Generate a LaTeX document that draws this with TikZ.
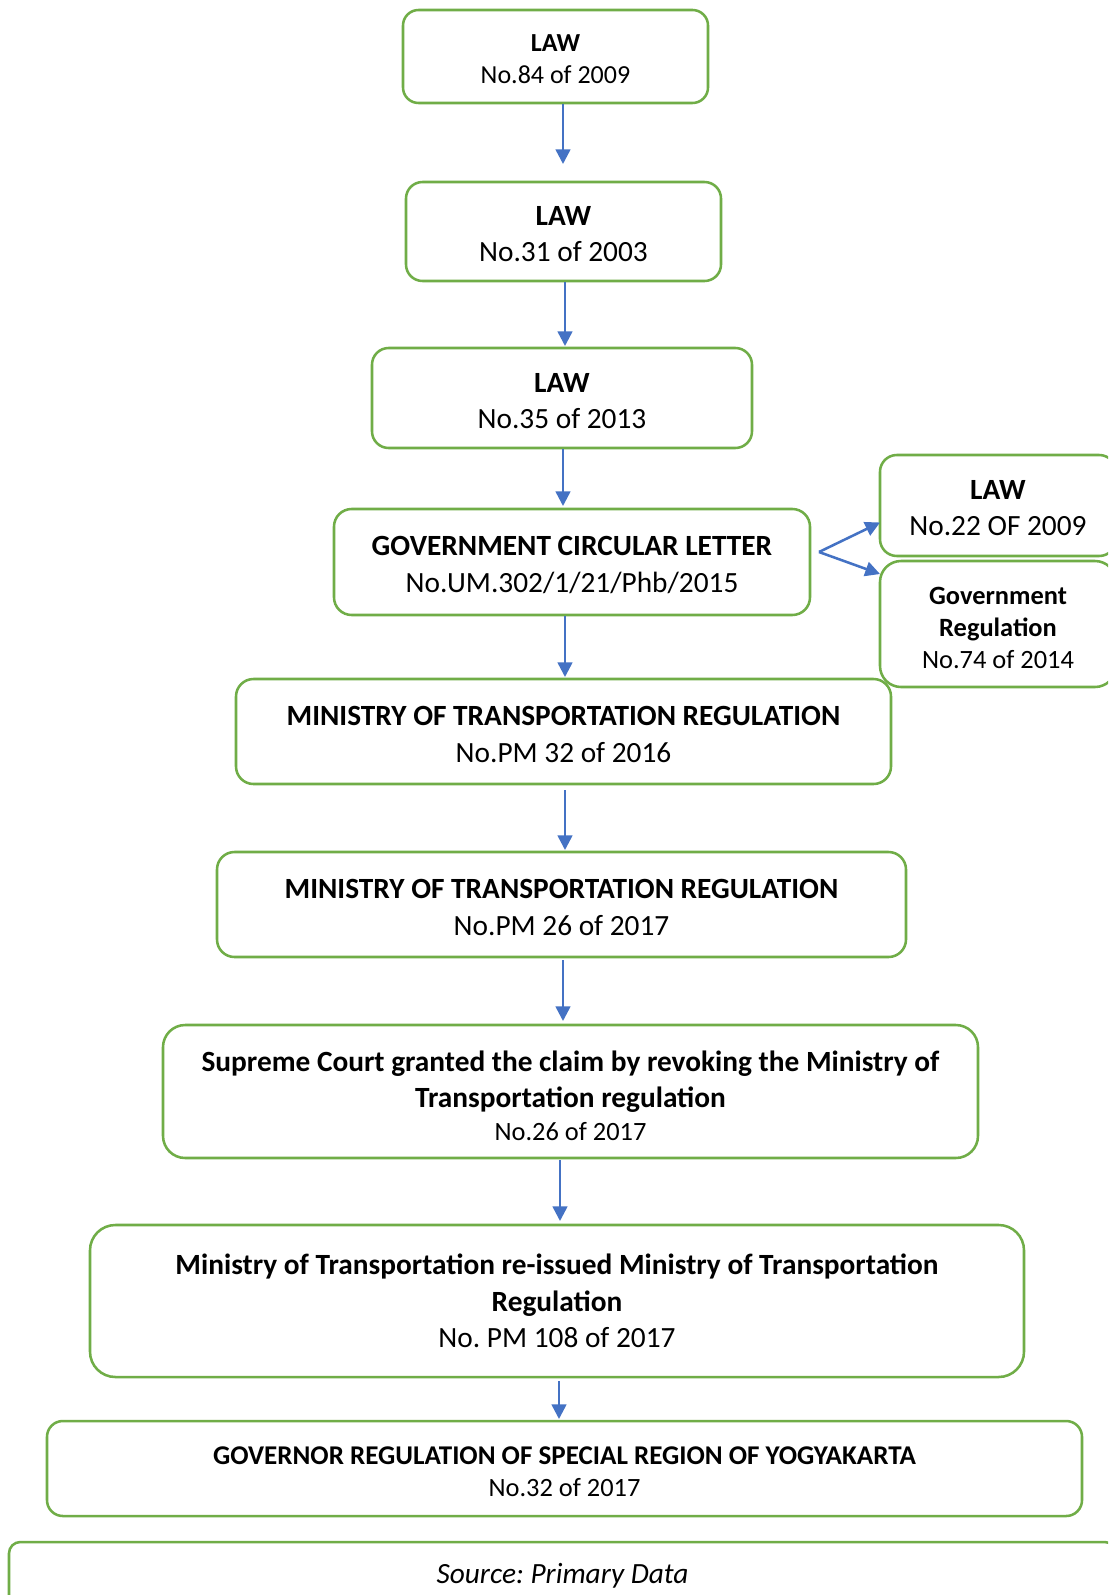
\documentclass[tikz,border=0pt]{standalone}
\usepackage{fontspec}
\setmainfont{Carlito}
\usetikzlibrary{arrows.meta}
\definecolor{grn}{HTML}{70AD47}
\definecolor{blu}{HTML}{4472C4}
\newdimen\pxu \pxu=0.75pt
\newcommand\setfs[2]{\fontsize{#1}{#2}\selectfont}
\newcommand\tp{\rule{0pt}{0.84em}}
\frenchspacing
\tikzset{
  box/.style 2 args={draw=grn, line width=1.9pt, align=center, inner sep=0pt,
    minimum width=#1*\pxu, minimum height=#2*\pxu, rounded corners={#2*\pxu/6}},
  arr/.style={draw=blu, line width=1.9pt, -{Triangle[length=11pt,width=11pt]}}
}
\begin{document}
\begin{tikzpicture}[x=0.75pt,y=-0.75pt]
\useasboundingbox (0,0) rectangle (1108,1595);
\clip (0,0) rectangle (1108,1595);
\fill[white] (0,0) rectangle (1108,1595);

\node[box={305}{93}, font=\setfs{19.5}{23.6}] (b1) at (555.5,56.5) {\tp\textbf{LAW}\\No.84 of 2009};
\node[box={315}{99}, font=\setfs{22}{26.7}] (b2) at (563.5,231.5) {\tp\textbf{LAW}\\No.31 of 2003};
\node[box={380}{100}, font=\setfs{22}{26.7}] (b3) at (562,398) {\tp\textbf{LAW}\\No.35 of 2013};
\node[box={476}{106}, font=\setfs{22}{27.7}] (b4) at (572,562) {\tp\textbf{GOVERNMENT CIRCULAR LETTER}\\No.UM.302/1/21/Phb/2015};
\node[box={236}{101}, font=\setfs{22}{26.7}] (r1) at (998,505.5) {\tp\textbf{LAW}\\No.22 OF 2009};
\node[box={236}{126}, font=\setfs{19.8}{24}] (r2) at (998,624) {\rule{0pt}{0.95em}\textbf{Government}\\\textbf{Regulation}\\No.74 of 2014};
\node[box={655}{105}, font=\setfs{22}{27.7}] (b5) at (563.5,731.5) {\tp\textbf{MINISTRY OF TRANSPORTATION REGULATION}\\No.PM 32 of 2016};
\node[box={689}{105}, font=\setfs{22}{27.7}] (b6) at (561.5,904.5) {\tp\textbf{MINISTRY OF TRANSPORTATION REGULATION}\\No.PM 26 of 2017};
\node[box={815}{133}, font=\setfs{22}{27}] (b7) at (570.5,1091.5) {\rule{0pt}{0.98em}\textbf{Supreme Court granted the claim by revoking the Ministry of}\\\textbf{Transportation regulation}\\[-2pt]{\setfs{19.8}{25}No.26 of 2017}};
\node[box={934}{152}, font=\setfs{22}{27.5}] (b8) at (557,1301) {\textbf{Ministry of Transportation re-issued Ministry of Transportation}\\\textbf{Regulation}\\No. PM 108 of 2017};
\node[box={1035}{95}, font=\setfs{20.3}{24.5}] (b9) at (564.5,1468.5) {\rule{0pt}{0.9em}\textbf{GOVERNOR REGULATION OF SPECIAL REGION OF YOGYAKARTA}\\{\setfs{19.8}{24.5}No.32 of 2017}};
\node[box={1107}{68}, font=\setfs{22}{26}] (src) at (562.5,1576) {\textit{Source: Primary Data}};

\coordinate (t1) at (563,164);
\coordinate (t2) at (565,346);
\coordinate (t3) at (563,506);
\coordinate (t4) at (565,677);
\coordinate (s5) at (565,790);
\coordinate (t5) at (565,850);
\coordinate (s6) at (563,960);
\coordinate (t6) at (563,1021);
\coordinate (s7) at (560,1160);
\coordinate (t7) at (560,1221);
\coordinate (s8) at (559,1381);
\coordinate (t8) at (559,1419);
\coordinate (sr) at (819,552);
\coordinate (e1) at (880,522.5);
\coordinate (e2) at (880,574);

\draw[arr] (b1.south -| t1) -- (t1);
\draw[arr] (b2.south -| t2) -- (t2);
\draw[arr] (b3.south -| t3) -- (t3);
\draw[arr] (b4.south -| t4) -- (t4);
\draw[arr] (s5) -- (t5);
\draw[arr] (s6) -- (t6);
\draw[arr] (s7) -- (t7);
\draw[arr] (s8) -- (t8);
\draw[arr] (sr) -- (e1);
\draw[arr] (sr) -- (e2);
\end{tikzpicture}
\end{document}
